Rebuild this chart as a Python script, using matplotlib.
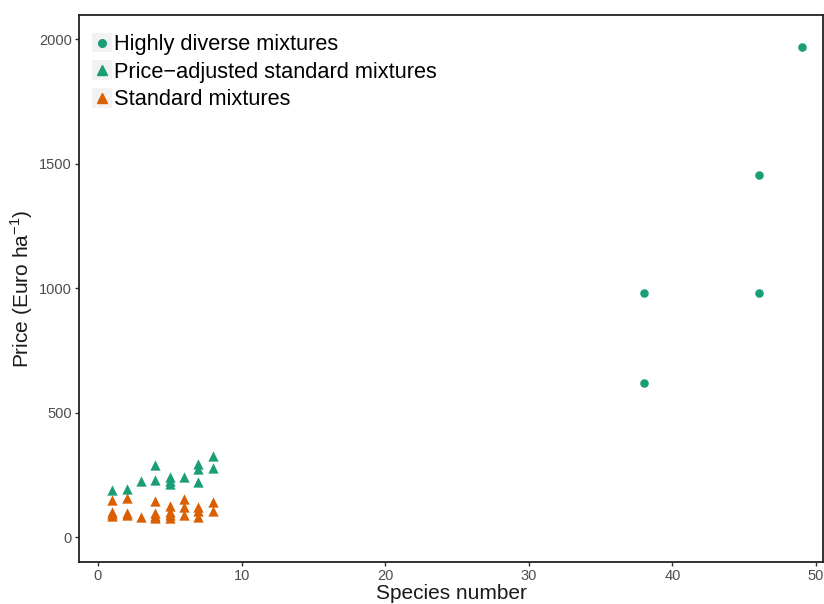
import matplotlib
matplotlib.use("Agg")
import matplotlib.pyplot as plt
from matplotlib.legend_handler import HandlerLine2D
from matplotlib.patches import Rectangle
from matplotlib.lines import Line2D

plt.rcParams['font.family'] = ['Liberation Sans', 'DejaVu Sans']

# highly diverse mixtures
hd_species = [38, 38, 46, 46, 49]
hd_price = [980, 618, 1454, 980, 1968]

# price-adjusted standard mixtures
pa_species = [1, 2, 3, 4, 4, 5, 5, 5, 6, 7, 7, 7, 8, 8]
pa_price = [190, 195, 225, 290, 230, 240, 225, 215, 240, 295, 275, 222, 327, 278]

# standard mixtures
st_species = [1, 1, 1, 1, 2, 2, 2, 3, 4, 4, 4, 4, 5, 5, 5, 5, 6, 6, 6, 7, 7, 7, 8, 8]
st_price = [150, 100, 85, 92, 157, 95, 88, 80, 145, 95, 85, 78, 125, 100, 88, 75,
            152, 122, 90, 122, 105, 80, 142, 106]

GREEN = '#1B9E77'
ORANGE = '#D95F02'


class KeyHandler(HandlerLine2D):
    # grey key box behind the marker, like ggplot legends
    def create_artists(self, legend, orig_handle, xdescent, ydescent,
                       width, height, fontsize, trans):
        arts = super().create_artists(legend, orig_handle, xdescent, ydescent,
                                      width, height, fontsize, trans)
        side = height * 1.3
        cx = width / 2 - xdescent
        cy = height / 2 - ydescent
        bg = Rectangle((cx - side / 2, cy - side / 2), side, side,
                       facecolor='#F2F2F2', edgecolor='none', transform=trans)
        return [bg] + arts


fig = plt.figure(figsize=(8.24, 6.04), dpi=100)
ax = fig.add_axes([0.0959, 0.0695, 0.9031, 0.9055])

ax.scatter(st_species, st_price, marker='^', s=55, color=ORANGE, linewidths=0, zorder=3)
ax.scatter(pa_species, pa_price, marker='^', s=55, color=GREEN, linewidths=0, zorder=3)
ax.scatter(hd_species, hd_price, marker='o', s=38, color=GREEN, linewidths=0, zorder=3)

ax.set_xlim(-1.32, 50.5)
ax.set_ylim(-100, 2096)
ax.set_xticks([0, 10, 20, 30, 40, 50])
ax.set_yticks([0, 500, 1000, 1500, 2000])

for s in ax.spines.values():
    s.set_color('#222222')
    s.set_linewidth(1.3)
ax.tick_params(direction='out', length=3, width=1, color='#333333', pad=2,
               labelsize=10.5, labelcolor='#4D4D4D')

ax.set_xlabel('Species number', fontsize=15, color='#1A1A1A', labelpad=1)
ax.set_ylabel(r'Price (Euro ha$^{\mathregular{-1}}$)', fontsize=15, color='#1A1A1A', labelpad=3)

handles = [
    Line2D([], [], linestyle='none', marker='o', markersize=5.5, color=GREEN),
    Line2D([], [], linestyle='none', marker='^', markersize=7, color=GREEN),
    Line2D([], [], linestyle='none', marker='^', markersize=7, color=ORANGE),
]
labels = ['Highly diverse mixtures', 'Price\u2212adjusted standard mixtures', 'Standard mixtures']
ax.legend(handles, labels, loc='upper left', bbox_to_anchor=(0.0, 0.993),
          frameon=False, fontsize=15.7, handlelength=0.7, handletextpad=0.2,
          labelspacing=0.3, borderaxespad=0.3,
          handler_map={Line2D: KeyHandler()})

fig.savefig('out.png', dpi=100)
